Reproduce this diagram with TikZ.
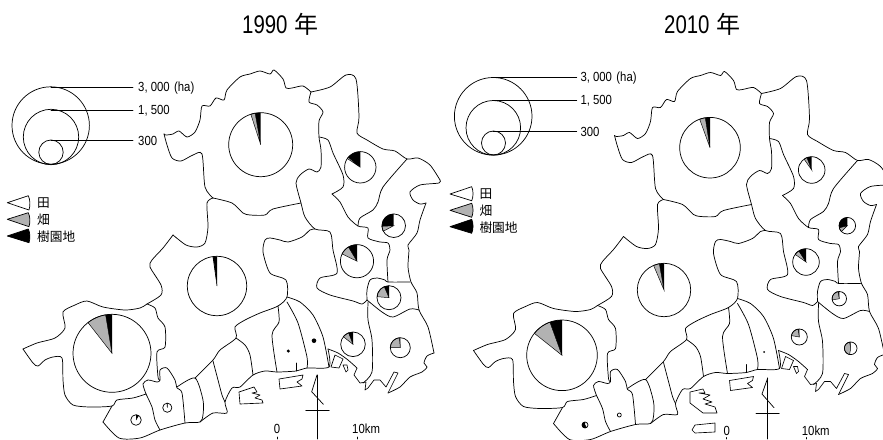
\documentclass[tikz,border=0pt]{standalone}
\usepackage{fontspec}
\newfontfamily\jpf{Noto Sans CJK JP}
\newfontfamily\numf[FakeStretch=.86]{Liberation Sans}
\newfontfamily\titf[FakeStretch=.8]{Liberation Sans}
\tikzset{
  ln/.style={line width=.72pt,line join=round,line cap=round,black},
  thinln/.style={line width=.65pt,line join=round,black},
  numlab/.style={inner sep=0pt,anchor=west,font=\numf\fontsize{13.2}{14}\selectfont},
  jplab/.style={inner sep=0pt,anchor=west,font=\jpf\fontsize{12.7}{13}\selectfont},
  titlab/.style={inner sep=0pt,font=\titf\fontsize{25.5}{26}\selectfont},
  wedgeshape/.style={line width=.7pt,line join=round,draw=black}
}
\definecolor{pgray}{gray}{0.7}
% centre x, centre y, radius, end of black (deg), end of gray (deg)
\newcommand\mypie[5]{%
  \fill[pgray,draw=black,line width=.45pt] (#1,#2) -- plot[domain=#4:#5,samples=16] ({#1+#3*cos(\x)},{#2-#3*sin(\x)}) -- cycle;
  \fill[black] (#1,#2) -- plot[domain=90:#4,samples=16] ({#1+#3*cos(\x)},{#2-#3*sin(\x)}) -- cycle;
  \draw[ln] (#1,#2) circle[radius=#3];
}
\newcommand\seg[1]{\draw[ln] plot[smooth,tension=.45] coordinates {#1};}
\newcommand\lseg[1]{\draw[thinln] plot coordinates {#1};}
\newcommand\basemap{%
  \seg{(164,134)(166,135)(173,134)(179,131)(187,137)(195,132)(200,120)(202,106)(210,106)(216,98)(224,100)(227,90)(240,77)(250,74)(260,71)(270,74)(274,70)(283,79)(286,88)(292,88)(303,86)(311,92)}
  \seg{(311,92)(330,87)(346,75)(356,79)(359,117)(357,133)(367,140)(383,149)(395,151)(407,159)(418,158)(430,165)(440,180)}
  \seg{(440,180)(439,183)(420,185)(410,192)(413,200)(420,204)(426,203)}
  \seg{(426,203)(420,220)(417,233)(408,245)(409,250)(408,267)(411,282)(417,293)(419,310)(428,327)(434,353)}
  \seg{(434,353)(427,356)(424,363)(427,367)(422,372)(410,377)(400,387)(388,393)}
  \lseg{(388,393)(398,373)(394,372)(386,387)(380,380)(374,380)(368,388)(365,390)(366,382)(360,383)(354,375)(357,368)}
  \seg{(357,368)(348,360)(338,353)(328,349)}
  \seg{(311,92)(309,102)(317,105)(323,112)(319,121)(319,137)(321,150)(321,167)(317,172)(309,169)(300,175)(296,183)(301,203)(305,217)(315,229)(330,232)(333,250)(337,273)(320,278)(317,288)(330,295)(353,301)(362,304)(367,300)}
  \seg{(367,300)(367,290)(370,280)(377,278)(385,280)(388,282)(410,282)}
  \seg{(367,300)(382,312)(393,317)(410,309)(419,310)}
  \seg{(368,302)(368,320)(372,340)(372,372)(363,383)}
  \seg{(388,282)(387,260)(390,250)(388,243)(380,242)(368,238)(368,228)(358,226)(348,217)(340,202)(332,194)}
  \seg{(332,194)(343,187)(343,175)(333,153)(328,140)(319,137)}
  \seg{(358,226)(360,218)(373,210)(378,202)(383,187)(407,159)}
  \seg{(301,203)(273,209)(265,215)(250,215)(243,213)(232,203)(213,198)}
  \seg{(213,198)(207,203)(208,227)(205,243)(197,247)(186,245)(173,235)}
  \seg{(173,235)(163,248)(152,260)(150,267)(161,285)(161,295)(147,304)(140,308)(125,310)(103,307)(87,301)(75,305)(63,312)(65,328)(55,338)(37,343)(23,349)}
  \seg{(23,349)(33,363)(38,366)(45,360)(53,357)(62,358)(63,380)(65,395)(73,405)(90,407)(112,406)(117,400)(133,398)(146,394)}
  \seg{(146,394)(143,384)(148,380)(157,382)(160,380)(160,370)(167,368)(175,380)(177,388)(182,393)(185,423)}
  \seg{(147,304)(155,308)(158,318)(165,327)(165,347)(157,352)(158,377)(160,380)}
  \seg{(213,198)(205,187)(202,154)(193,155)(181,161)(172,158)(167,145)(164,134)}
  \seg{(112,406)(103,422)}
  \seg{(103,422)(119,438)(140,438)(160,430)(185,423)(200,422)(203,415)(203,400)(195,378)(177,387)}
  \seg{(146,394)(152,407)(155,420)(160,430)}
  \seg{(200,422)(213,413)(227,413)(225,402)(232,388)(240,387)(253,375)(265,371)(277,372)(296,371)(307,368)(329,367)(328,349)}
  \seg{(195,378)(213,360)(220,350)(236,338)(235,327)(245,320)(260,313)(278,306)(287,297)(286,280)(270,273)(263,252)(265,240)(270,238)(280,240)(288,242)(302,237)(310,230)(315,229)}
  \seg{(213,361)(218,380)(222,395)(225,402)}
  \seg{(236,338)(245,345)(250,355)(253,375)}
  \seg{(278,306)(279,322)(272,335)(277,372)}
  \seg{(287,302)(298,323)(307,357)(307,368)}
  \seg{(287,297)(300,302)(313,315)(323,337)(329,367)}
  \draw[ln] (296,363) -- (296,371);
  \draw[thinln] (335,355) -- (343,359) -- (339,368) -- (331,367) -- cycle;
  \draw[thinln] (343,365) -- (347,365) -- (348,370) -- (346,372) -- cycle;
  \draw[thinln] (279,379) -- (303,375) -- (302,379) -- (297,382) -- (302,386) -- (280,389) -- cycle;
}
\begin{document}
\begin{tikzpicture}[x=1pt,y=-1pt]
\clip (0,0) rectangle (883,439);
\fill[white] (0,0) rectangle (883,439);
% titles
\node[titlab,anchor=west] (t1990) at (242,24) {1990\hspace{7pt}{\jpf\fontsize{24}{25}\selectfont 年}};
\node[titlab,anchor=west] (t2010) at (664,24) {2010\hspace{7pt}{\jpf\fontsize{24}{25}\selectfont 年}};
% maps
\basemap
\begin{scope}[shift={(450.5,1.5)}]
\basemap
\end{scope}
% extra islands of each map
\draw[thinln] (239,392) -- (254,387) -- (257,392) -- (252,393) -- (260,395) -- (255,398) -- (262,400) -- (263,403) -- (240,404) -- cycle;
\draw[thinln] (690,392) -- (703,389) -- (705,393) -- (699,393) -- (710,395) -- (703,399) -- (712,402) -- (705,404) -- (715,407) -- (717,413) -- (703,413) -- (690,403) -- cycle;
\draw[thinln] (692,430) -- (695,425) -- (715,423) -- (715,432) -- (695,433) -- cycle;
% pies 1990
\mypie{260.7}{144.7}{32}{100}{108}
\mypie{360.3}{167.3}{15.7}{140}{146}
\mypie{393.7}{225.7}{11.8}{183}{208}
\mypie{357}{261.2}{16.6}{121}{154}
\mypie{389}{297.7}{12}{113}{175}
\mypie{353}{344.3}{12.3}{111}{142}
\mypie{400.3}{347.7}{10}{95}{180}
\mypie{112}{353.3}{39}{99.4}{128}
\mypie{217}{286}{29.7}{97}{98}
\mypie{136}{420}{5.3}{60}{60}
\mypie{167.3}{407.7}{4.6}{90}{95}
\fill[black] (288.3,351) circle[radius=1.7];
\fill[black] (314,340.7) circle[radius=2.3];
% pies 2010
\mypie{710}{147.7}{30.3}{99}{110}
\mypie{811.7}{170}{13.3}{111}{125}
\mypie{847.3}{225.7}{8.3}{195}{225}
\mypie{806}{262}{13.3}{123}{145}
\mypie{839.3}{298.7}{7.2}{100}{190}
\mypie{799.3}{337}{8}{98}{170}
\mypie{850.7}{348.3}{6.3}{100}{260}
\mypie{562}{355.3}{35.3}{110}{141.5}
\mypie{664}{290}{26.7}{100}{113}
\mypie{585}{425}{3}{300}{300}
\draw[ln] (619.3,415) circle[radius=2];
\fill[black] (764,352) circle[radius=1];
% size legend 1990
\draw[ln] (50.7,125.5) circle[radius=38.7];
\draw[ln] (51,137) circle[radius=27.7];
\draw[ln] (51,152.2) circle[radius=12.2];
\node[numlab] (a3000) at (138,88) {3, 000\,\,(ha)};
\node[numlab] (a1500) at (138,111) {1, 500};
\node[numlab] (a300) at (138,141) {300};
\coordinate (ac3000) at (51,87);
\coordinate (ac1500) at (51,110);
\coordinate (ac300) at (51,140);
\draw[ln] (ac3000) -- (133,87);
\draw[ln] (ac1500) -- (133,110);
\draw[ln] (ac300) -- (133,140);
% size legend 2010
\draw[ln] (493.2,116.3) circle[radius=38.8];
\draw[ln] (493.3,127.8) circle[radius=27.3];
\draw[ln] (493.5,143) circle[radius=12];
\node[numlab] (b3000) at (580.3,78.5) {3, 000\,\,(ha)};
\node[numlab] (b1500) at (580.3,101) {1, 500};
\node[numlab] (b300) at (580.3,131.5) {300};
\coordinate (bc3000) at (493,77.7);
\coordinate (bc1500) at (493,100.7);
\coordinate (bc300) at (493,131);
\draw[ln] (bc3000) -- (576.7,77.7);
\draw[ln] (bc1500) -- (576.7,100.7);
\draw[ln] (bc300) -- (576.7,131);
% land-use legend 1990
\draw[wedgeshape,fill=white] (7.3,202.7) -- (28.3,195.7) .. controls (30.3,200) and (30.3,205.5) .. (29,210) -- cycle;
\draw[wedgeshape,fill=pgray] (7.3,219.3) -- (28.3,212.7) .. controls (30.3,217) and (30.3,222) .. (29,226.7) -- cycle;
\draw[wedgeshape,fill=black] (7.3,236) -- (28.3,229) .. controls (30.3,233) and (30.3,238.5) .. (29,242.7) -- cycle;
\node[jplab] (a1) at (37,203) {田};
\node[jplab] (a2) at (37,220) {畑};
\node[jplab] (a3) at (37,237) {樹園地};
% land-use legend 2010
\draw[wedgeshape,fill=white] (450,194) -- (471.7,186.7) .. controls (473.5,191) and (473.5,196.5) .. (471.7,200.7) -- cycle;
\draw[wedgeshape,fill=pgray] (450,210.3) -- (471.7,203.3) .. controls (473.5,207.5) and (473.5,213) .. (471.7,217.3) -- cycle;
\draw[wedgeshape,fill=black] (450,226.7) -- (471.7,219.3) .. controls (473.5,223.5) and (473.5,229) .. (471.7,233.3) -- cycle;
\node[jplab] (b1) at (479.3,194.3) {田};
\node[jplab] (b2) at (479.3,211) {畑};
\node[jplab] (b3) at (479.3,227.5) {樹園地};
% north arrow and scale 1990
\node[numlab,anchor=center] (s0) at (277,429) {0};
\node[numlab] (s10) at (352,429) {10km};
\coordinate (an) at (317,375);
\coordinate (as) at (317,439);
\draw[ln] (an) -- (as);
\draw[ln] (305.7,410) -- (329.3,410);
\draw[ln] (an) -- (311.7,391.7) -- (323.3,404.3);
\draw[ln] (277,437) -- (277,439);
\draw[ln] (357,437) -- (357,439);
% north arrow and scale 2010
\node[numlab,anchor=center] (u0) at (726.7,431) {0};
\node[numlab] (u10) at (801.7,431) {10km};
\coordinate (bn) at (767.7,378);
\coordinate (bs) at (767.7,439);
\draw[ln] (bn) -- (bs);
\draw[ln] (756,413.3) -- (779.3,413.3);
\draw[ln] (bn) -- (762,394) -- (774,407.7);
\draw[ln] (726.7,437.5) -- (726.7,439);
\draw[ln] (806.7,437.5) -- (806.7,439);
\end{tikzpicture}
\end{document}
